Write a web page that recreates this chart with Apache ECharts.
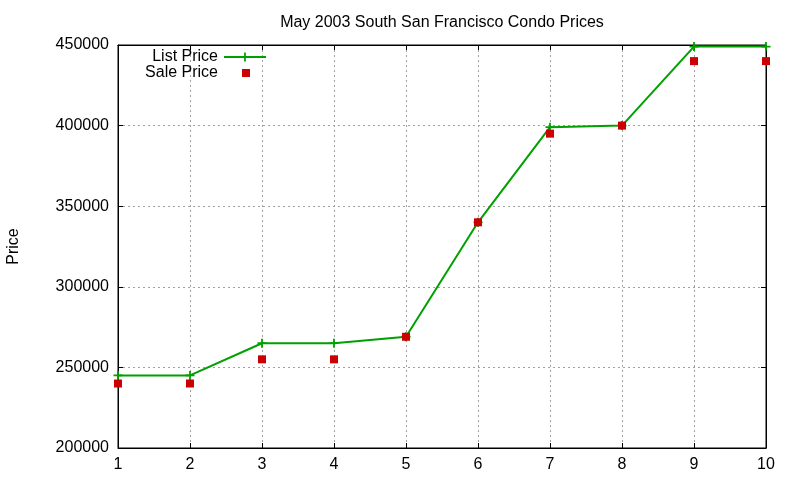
<!DOCTYPE html>
<html>
<head>
<meta charset="utf-8">
<script src="https://cdn.jsdelivr.net/npm/echarts@6/dist/echarts.min.js"></script>
<style>html,body{margin:0;padding:0;background:#fff}#c{width:800px;height:480px}</style>
</head>
<body>
<div id="c"></div>
<script>
var titleText = 'May 2003 South San Francisco Condo Prices';
var yAxisName = 'Price';
var xValues = [1, 2, 3, 4, 5, 6, 7, 8, 9, 10];
var listPrice = [245000, 245000, 265000, 265000, 269000, 340000, 399000, 400000, 449000, 449000];
var salePrice = [240000, 240000, 255000, 255000, 269000, 340000, 395000, 400000, 440000, 440000];
var seriesNames = ['List Price', 'Sale Price'];

var FONT = '"Liberation Sans", Arial, sans-serif';
var FS = 16;
var plusPath = 'path://M4,0H6V4H10V6H6V10H4V6H0V4H4Z';
function pairs(xs, ys) { return xs.map(function (x, i) { return [x, ys[i]]; }); }

var chart = echarts.init(document.getElementById('c'));
var gridLine = { show: true, lineStyle: { color: '#a0a0a0', type: [2, 3], width: 1 } };
chart.setOption({
  animation: false,
  backgroundColor: '#fff',
  textStyle: { fontFamily: FONT },
  title: {
    text: titleText, left: 437, top: 10, textAlign: 'center',
    textStyle: { fontFamily: FONT, fontSize: FS, fontWeight: 'normal', color: '#000' }
  },
  legend: [
    {
      data: [seriesNames[0]], orient: 'vertical', right: 533, top: 49, align: 'right',
      itemWidth: 42, itemHeight: 11, padding: 0, itemGap: 0,
      textStyle: { fontFamily: FONT, fontSize: FS, color: '#000', padding: [0, 1, 0, 0] }
    },
    {
      data: [seriesNames[1]], orient: 'vertical', right: 550, top: 65, align: 'right',
      itemWidth: 8, itemHeight: 8, padding: 0, itemGap: 0,
      textStyle: { fontFamily: FONT, fontSize: FS, color: '#000', padding: [0, 19, 0, 0] }
    }
  ],
  grid: {
    left: 118, right: 34, top: 45, bottom: 32, show: true, containLabel: false,
    outerBoundsMode: 'none',
    borderColor: '#000', borderWidth: 1, backgroundColor: 'transparent'
  },
  xAxis: [
    {
      type: 'value', min: 1, max: 10, interval: 1,
      axisLine: { show: true, lineStyle: { color: '#000', width: 1 } },
      axisTick: { show: true, inside: true, length: 5, lineStyle: { color: '#000' } },
      axisLabel: { fontFamily: FONT, fontSize: FS, color: '#000', margin: 9 },
      splitLine: gridLine
    },
    {
      type: 'value', min: 1, max: 10, interval: 1, position: 'top',
      axisLine: { show: true, lineStyle: { color: '#000' } },
      axisTick: { show: true, inside: true, length: 5, lineStyle: { color: '#000' } },
      axisLabel: { show: false }, splitLine: { show: false }
    }
  ],
  yAxis: [
    {
      type: 'value', min: 200000, max: 450000, interval: 50000,
      name: yAxisName, nameLocation: 'middle', nameGap: 96, nameRotate: 90,
      nameTextStyle: { fontFamily: FONT, fontSize: FS, color: '#000' },
      axisLine: { show: true, lineStyle: { color: '#000', width: 1 } },
      axisTick: { show: true, inside: true, length: 5, lineStyle: { color: '#000' } },
      axisLabel: { fontFamily: FONT, fontSize: FS, color: '#000', margin: 9,
        formatter: function (v) { return String(v); } },
      splitLine: gridLine
    },
    {
      type: 'value', min: 200000, max: 450000, interval: 50000, position: 'right',
      axisLine: { show: true, lineStyle: { color: '#000' } },
      axisTick: { show: true, inside: true, length: 5, lineStyle: { color: '#000' } },
      axisLabel: { show: false }, splitLine: { show: false }
    }
  ],
  series: [
    {
      name: seriesNames[0], type: 'line', data: pairs(xValues, listPrice),
      symbol: plusPath, symbolSize: 9, showAllSymbol: true,
      lineStyle: { color: '#00a000', width: 2 },
      itemStyle: { color: '#00a000' }, z: 2
    },
    {
      name: seriesNames[1], type: 'scatter', data: pairs(xValues, salePrice),
      symbol: 'rect', symbolSize: 8,
      itemStyle: { color: '#cc0000', opacity: 1 }, z: 3
    }
  ]
});
</script>
</body>
</html>
